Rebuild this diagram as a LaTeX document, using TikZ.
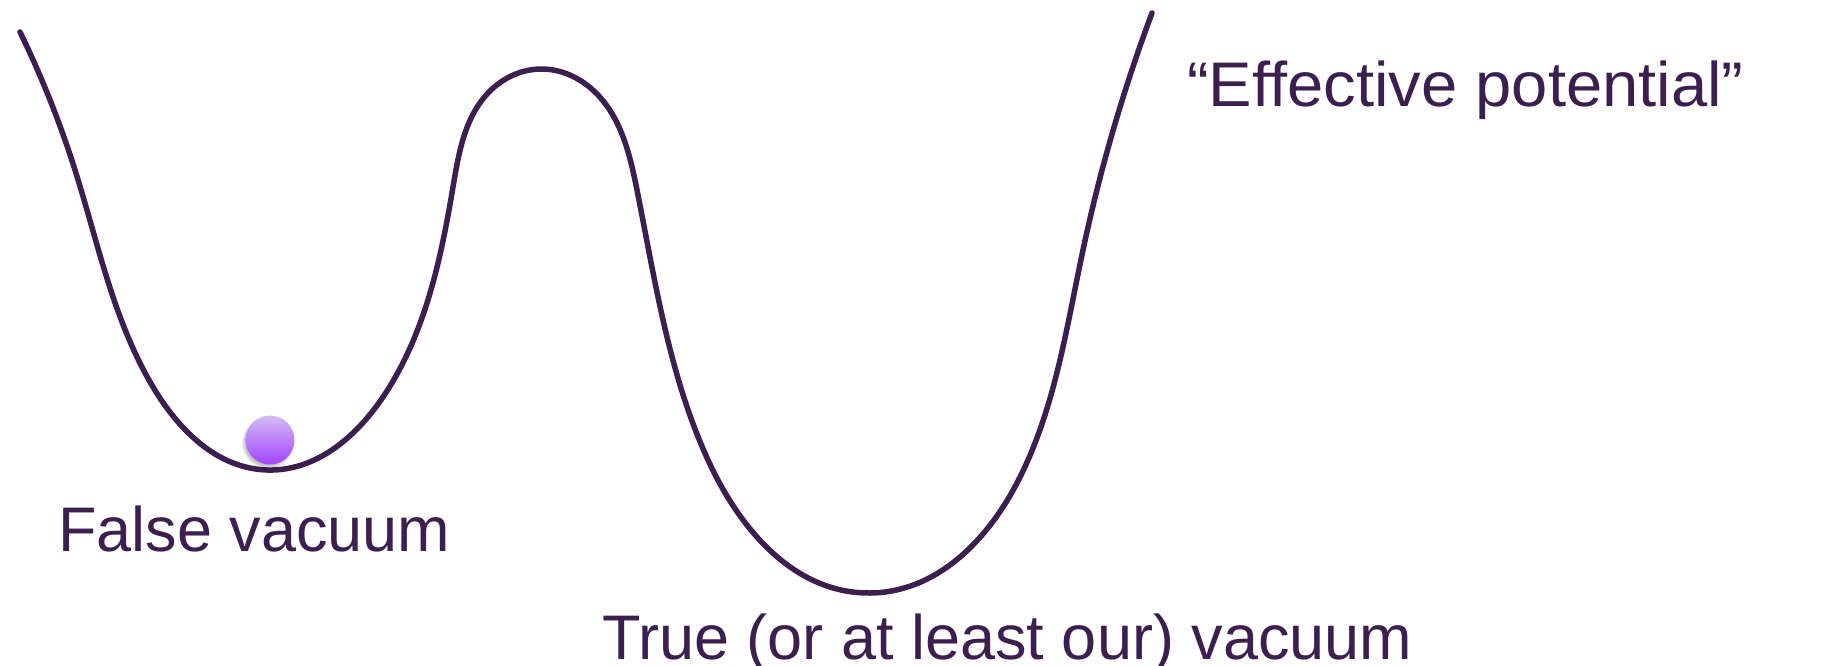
\documentclass[tikz,border=0pt]{standalone}
\usepackage{fontspec}
\usepackage{graphicx}
\setmainfont{Liberation Sans}[Ligatures=NoCommon]
\usetikzlibrary{shadows.blur,hobby}
\definecolor{ink}{HTML}{3C1F4E}
\definecolor{balltop}{HTML}{D4BCF2}
\definecolor{ballbot}{HTML}{A244FF}
\tikzset{
  curve/.style={draw=ink, line width=5.5pt, line cap=round, line join=round},
  label/.style={text=ink, font=\fontsize{63}{70}\selectfont, anchor=base west, inner sep=0pt},
  ball/.style={circle, minimum size=49pt, inner sep=0pt, top color=balltop, bottom color=ballbot,
    blur shadow={shadow xshift=-2pt, shadow yshift=-3pt, shadow blur steps=6, shadow opacity=25}}
}
\begin{document}
\begin{tikzpicture}[x=1pt,y=-1pt]
\useasboundingbox (0,0) rectangle (1826,666);
\coordinate (start) at (20,32);
\coordinate (minL) at (267,470);
\coordinate (peak) at (542,69);
\coordinate (minR) at (870,593);
\coordinate (stop) at (1152,13);
\draw[curve] (start) to[curve through={(75,170) (153,387) (minL)
   (383,397) (453,187) (490,91) (peak) (595,92)
   (637,190) (708,460) (minR)
   (1017,483) (1083,250)}] (stop);
\node[ball] (ball) at (270,440) {};
\node[label] (effpot) at (1187,107) {\scalebox{1.034}[1]{“Effective potential”}};
\node[label] (falsevac) at (58,551) {False vacuum};
\node[label] (truevac) at (602,659) {True (or at least our) vacuum};
\end{tikzpicture}
\end{document}
